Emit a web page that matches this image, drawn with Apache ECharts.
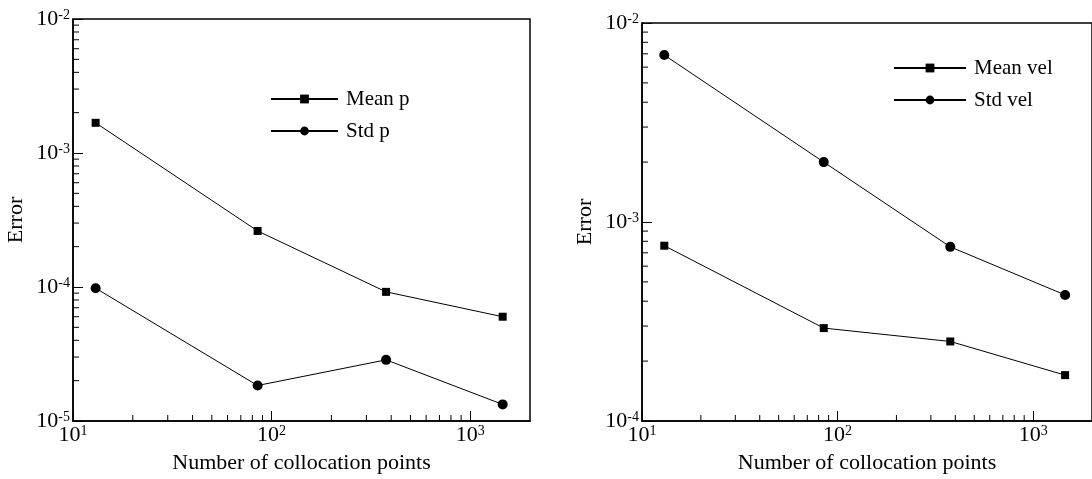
<!DOCTYPE html>
<html>
<head>
<meta charset="utf-8">
<script src="https://cdn.jsdelivr.net/npm/echarts@6/dist/echarts.min.js"></script>
<style>
  html, body { margin: 0; padding: 0; background: #fff; }
  #chart { width: 1092px; height: 479px; }
</style>
</head>
<body>
<div id="chart"></div>
<script>
// Collocation point counts shared by both panels
const points = [13, 85, 377, 1457];

// Pressure errors (left panel)
const meanP = [1.68e-3, 2.62e-4, 9.2e-5, 6.0e-5];
const stdP = [9.8e-5, 1.84e-5, 2.86e-5, 1.33e-5];

// Velocity errors (right panel)
const meanVel = [7.6e-4, 2.93e-4, 2.51e-4, 1.70e-4];
const stdVel = [6.9e-3, 2.0e-3, 7.5e-4, 4.3e-4];

// Axis ranges
const xRange = [10, 2000];
const yRangeP = [1e-5, 1e-2];
const yRangeVel = [1e-4, 1e-2];

// Minor tick positions (2..9 of each decade)
const xMinorTicks = [20, 30, 40, 50, 60, 70, 80, 90, 200, 300, 400, 500, 600, 700, 800, 900];
const yMinorTicksP = [2e-5, 3e-5, 4e-5, 5e-5, 6e-5, 7e-5, 8e-5, 9e-5,
  2e-4, 3e-4, 4e-4, 5e-4, 6e-4, 7e-4, 8e-4, 9e-4,
  2e-3, 3e-3, 4e-3, 5e-3, 6e-3, 7e-3, 8e-3, 9e-3];
const yMinorTicksVel = [2e-4, 3e-4, 4e-4, 5e-4, 6e-4, 7e-4, 8e-4, 9e-4,
  2e-3, 3e-3, 4e-3, 5e-3, 6e-3, 7e-3, 8e-3, 9e-3];

const FONT = 'Liberation Serif';
const BLACK = '#000';

function pair(xs, ys) { return xs.map((x, i) => [x, ys[i]]); }

function powLabel(v) {
  const e = Math.log10(v);
  const r = Math.round(e);
  if (Math.abs(e - r) > 1e-6) return '';
  return '{b|10}{s|' + r + '}';
}

const labelRich = {
  b: { fontFamily: FONT, fontSize: 22, color: BLACK, lineHeight: 22 },
  s: { fontFamily: FONT, fontSize: 14, color: BLACK, verticalAlign: 'top', lineHeight: 12 }
};

function xAxisFor(gridIndex) {
  return {
    type: 'log', logBase: 10, gridIndex: gridIndex,
    min: xRange[0], max: xRange[1],
    name: 'Number of collocation points',
    nameLocation: 'middle', nameGap: 31,
    nameTextStyle: { fontFamily: FONT, fontSize: 22, color: BLACK },
    axisLine: { show: true, lineStyle: { color: BLACK, width: 1.5 } },
    axisTick: { show: true, inside: true, length: 10, lineStyle: { color: BLACK, width: 1 } },
    axisLabel: { formatter: powLabel, rich: labelRich, margin: 3, showMaxLabel: false },
    splitLine: { show: false }
  };
}

function yAxisFor(gridIndex, range) {
  return {
    type: 'log', logBase: 10, gridIndex: gridIndex,
    min: range[0], max: range[1],
    name: 'Error',
    nameLocation: 'middle', nameGap: 46,
    nameTextStyle: { fontFamily: FONT, fontSize: 22, color: BLACK },
    axisLine: { show: true, lineStyle: { color: BLACK, width: 1.5 } },
    axisTick: { show: true, inside: true, length: 10, lineStyle: { color: BLACK, width: 1 } },
    axisLabel: { formatter: powLabel, rich: labelRich, margin: 3 },
    splitLine: { show: false }
  };
}

function lineSeries(name, gi, xs, ys, symbol, size) {
  return {
    type: 'line', name: name,
    xAxisIndex: gi, yAxisIndex: gi,
    data: pair(xs, ys),
    symbol: symbol, symbolSize: size,
    lineStyle: { color: BLACK, width: 1 },
    itemStyle: { color: BLACK },
    emphasis: { disabled: true },
    animation: false
  };
}

// Short inward ticks drawn at the minor decade positions
function minorTicks(gi, values, axis, corner) {
  const data = values.map(v => axis === 'x' ? [v, corner] : [corner, v]);
  return {
    type: 'custom', xAxisIndex: gi, yAxisIndex: gi,
    silent: true, animation: false, z: 5,
    data: data,
    renderItem: function (params, api) {
      const p = api.coord([api.value(0), api.value(1)]);
      const shape = axis === 'x'
        ? { x1: p[0], y1: p[1], x2: p[0], y2: p[1] - 6 }
        : { x1: p[0], y1: p[1], x2: p[0] + 6, y2: p[1] };
      return { type: 'line', shape: shape, style: { stroke: BLACK, lineWidth: 1 } };
    }
  };
}

function legendFor(names, left, top, width) {
  return {
    data: names, orient: 'vertical', left: left, top: top,
    itemWidth: width, itemHeight: 11, itemGap: 10,
    textStyle: { fontFamily: FONT, fontSize: 21, color: BLACK, padding: [0, 0, 0, 3], lineHeight: 22 },
    selectedMode: false
  };
}

const chart = echarts.init(document.getElementById('chart'), null, { renderer: 'canvas' });
chart.setOption({
  backgroundColor: '#fff',
  animation: false,
  grid: [
    { left: 73, top: 19, width: 457, bottom: 43, show: true, borderColor: BLACK, borderWidth: 1.5, backgroundColor: 'transparent' },
    { left: 642, top: 23, width: 454, bottom: 42, show: true, borderColor: BLACK, borderWidth: 1.5, backgroundColor: 'transparent' }
  ],
  xAxis: [xAxisFor(0), xAxisFor(1)],
  yAxis: [yAxisFor(0, yRangeP), yAxisFor(1, yRangeVel)],
  legend: [
    legendFor(['Mean p', 'Std p'], 265, 83, 67),
    legendFor(['Mean vel', 'Std vel'], 888, 52, 72)
  ],
  series: [
    lineSeries('Mean p', 0, points, meanP, 'rect', 8),
    lineSeries('Std p', 0, points, stdP, 'circle', 10),
    lineSeries('Mean vel', 1, points, meanVel, 'rect', 8),
    lineSeries('Std vel', 1, points, stdVel, 'circle', 10),
    minorTicks(0, xMinorTicks, 'x', yRangeP[0]),
    minorTicks(0, yMinorTicksP, 'y', xRange[0]),
    minorTicks(1, xMinorTicks, 'x', yRangeVel[0]),
    minorTicks(1, yMinorTicksVel, 'y', xRange[0])
  ]
});
</script>
</body>
</html>
